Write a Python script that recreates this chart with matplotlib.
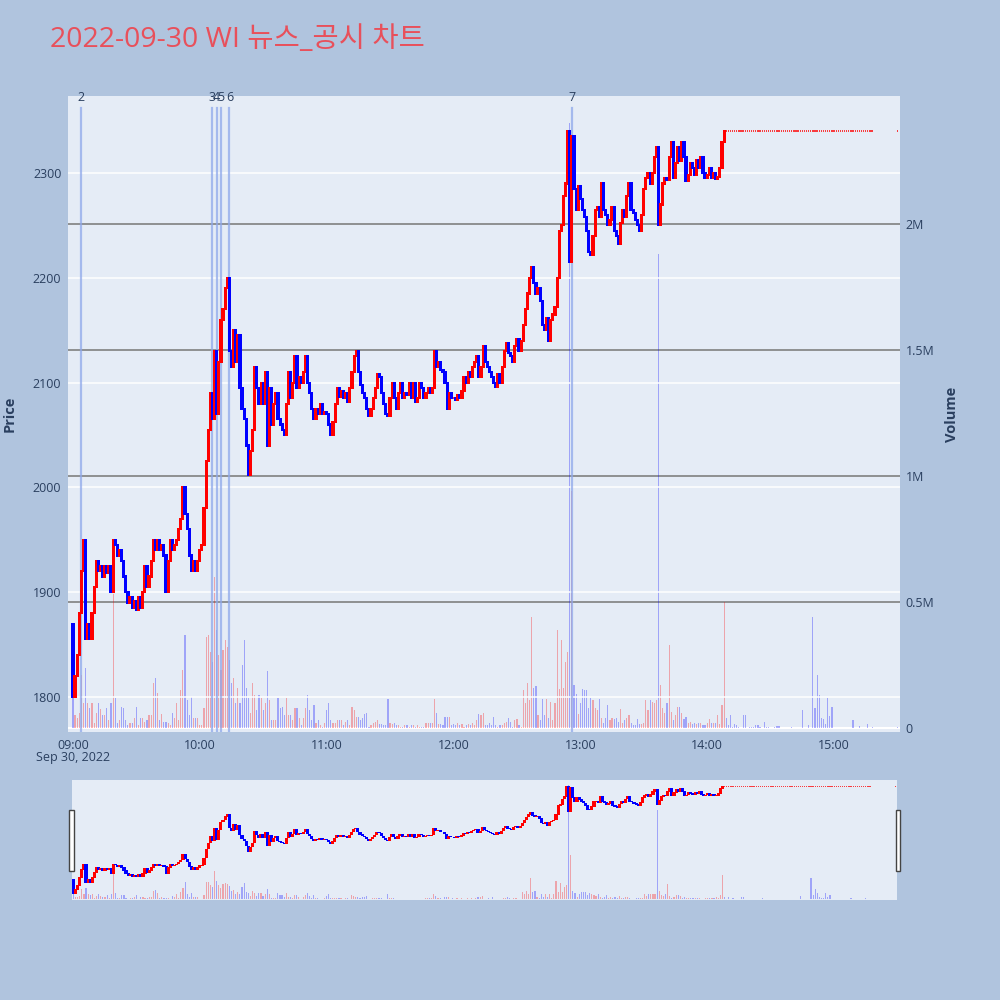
import matplotlib
matplotlib.use("Agg")
import matplotlib.pyplot as plt
import matplotlib.dates as mdates
import matplotlib.patches as patches
import numpy as np
import pandas as pd

plt.rcParams['font.family'] = ['Open Sans', 'Noto Sans CJK KR', 'DejaVu Sans']

title = "2022-09-30 WI 뉴스_공시 차트"

# 1-minute closes, 09:00 ~ 14:08
close_trade = [
    1800, 1820, 1840, 1880, 1920, 1950, 1855, 1870, 1855, 1880,
    1905, 1930, 1920, 1925, 1915, 1925, 1918, 1925, 1900, 1950,
    1945, 1935, 1940, 1930, 1915, 1900, 1890, 1895, 1885, 1892,
    1883, 1895, 1885, 1900, 1925, 1905, 1915, 1930, 1950, 1940,
    1950, 1940, 1945, 1935, 1900, 1930, 1950, 1940, 1945, 1950,
    1960, 1970, 2000, 1975, 1960, 1935, 1920, 1930, 1920, 1930,
    1940, 1945, 1980, 2025, 2055, 2090, 2065, 2130, 2070, 2120,
    2160, 2170, 2190, 2200, 2130, 2115, 2150, 2120, 2145, 2095,
    2075, 2065, 2040, 2012, 2035, 2055, 2115, 2095, 2080, 2100,
    2080, 2110, 2040, 2095, 2060, 2080, 2090, 2065, 2060, 2055,
    2050, 2080, 2110, 2085, 2100, 2125, 2095, 2105, 2100, 2110,
    2125, 2100, 2090, 2075, 2065, 2075, 2070, 2080, 2070, 2072,
    2070, 2060, 2050, 2062, 2080, 2095, 2086, 2092, 2085, 2090,
    2082, 2095, 2110, 2125, 2130, 2110, 2098, 2090, 2085, 2075,
    2068, 2075, 2085, 2095, 2108, 2105, 2090, 2080, 2070, 2068,
    2085, 2100, 2085, 2075, 2090, 2100, 2085, 2090, 2088, 2100,
    2085, 2100, 2082, 2085, 2100, 2095, 2085, 2090, 2095, 2090,
    2095, 2130, 2115, 2120, 2112, 2110, 2100, 2075, 2090, 2085,
    2085, 2083, 2088, 2085, 2092, 2105, 2100, 2110, 2105, 2115,
    2120, 2125, 2105, 2115, 2135, 2120, 2115, 2110, 2105, 2100,
    2096, 2108, 2100, 2115, 2130, 2138, 2128, 2125, 2120, 2135,
    2142, 2130, 2140, 2155, 2170, 2185, 2200, 2210, 2195, 2185,
    2190, 2178, 2155, 2150, 2162, 2140, 2160, 2165, 2172, 2200,
    2245, 2250, 2278, 2290, 2340, 2215, 2335, 2285, 2265, 2288,
    2275, 2265, 2258, 2245, 2225, 2222, 2240, 2265, 2268, 2258,
    2290, 2265, 2260, 2250, 2255, 2268, 2245, 2240, 2232, 2252,
    2265, 2258, 2278, 2290, 2265, 2262, 2255, 2250, 2245, 2260,
    2285, 2295, 2300, 2290, 2300, 2315, 2325, 2250, 2270, 2290,
    2295, 2293, 2315, 2330, 2295, 2310, 2325, 2312, 2330, 2315,
    2292, 2298, 2310, 2305, 2298, 2312, 2305, 2315, 2300, 2295,
    2298, 2305, 2295, 2300, 2294, 2296, 2305, 2330, 2340,
]
first_open = 1870
flat_price = 2340      # 14:09 ~ 15:18 and the 15:30 close
n_flat = 70

# volume in thousand shares, same minutes
vol_trade = [
    120, 50, 40, 60, 210, 100, 240, 100, 80, 100,
    20, 60, 100, 75, 50, 50, 80, 30, 100, 530,
    120, 20, 30, 85, 80, 30, 10, 20, 20, 40,
    85, 10, 40, 40, 25, 30, 50, 50, 180, 200,
    140, 30, 55, 25, 25, 20, 10, 60, 40, 100,
    30, 150, 230, 370, 110, 50, 125, 40, 40, 40,
    10, 10, 80, 360, 370, 300, 260, 600, 390, 290,
    230, 310, 350, 320, 270, 180, 200, 100, 160, 100,
    250, 350, 160, 120, 60, 180, 130, 70, 130, 120,
    70, 100, 225, 110, 30, 30, 30, 120, 80, 85,
    50, 120, 50, 50, 30, 80, 80, 40, 10, 40,
    80, 130, 70, 30, 90, 20, 30, 10, 5, 20,
    70, 100, 30, 20, 20, 30, 30, 30, 10, 25,
    30, 10, 85, 70, 45, 45, 30, 40, 55, 60,
    5, 10, 20, 25, 30, 15, 15, 10, 10, 115,
    20, 15, 20, 10, 10, 5, 5, 10, 10, 5,
    10, 10, 5, 10, 5, 5, 5, 20, 20, 20,
    20, 115, 60, 15, 15, 10, 45, 45, 45, 10,
    15, 10, 20, 10, 15, 5, 10, 15, 10, 20,
    10, 30, 55, 50, 60, 10, 10, 20, 10, 45,
    10, 5, 10, 10, 20, 25, 40, 25, 5, 30,
    35, 10, 5, 150, 100, 180, 110, 440, 160, 165,
    50, 30, 115, 50, 115, 40, 105, 30, 100, 390,
    155, 350, 160, 260, 300, 2400, 940, 170, 135, 55,
    100, 155, 150, 150, 80, 120, 110, 80, 70, 115,
    40, 20, 40, 90, 30, 40, 35, 40, 25, 75,
    20, 30, 40, 50, 20, 10, 10, 35, 15, 15,
    20, 110, 70, 110, 105, 100, 110, 1880, 170, 80,
    60, 100, 330, 65, 30, 50, 85, 85, 60, 35,
    45, 20, 25, 15, 20, 15, 20, 20, 10, 10,
    20, 35, 20, 20, 20, 50, 15, 90, 500,
]
vol_flat = [
    40, 10, 50, 5, 15, 10, 5, 0, 50, 50,
    0, 5, 3, 5, 10, 10, 5, 0, 25, 3,
    5, 0, 0, 5, 8, 8, 0, 0, 0, 0,
    0, 5, 0, 0, 0, 0, 70, 0, 0, 10,
    0, 440, 80, 210, 130, 40, 35, 15, 120, 47,
    85, 0, 0, 0, 0, 0, 0, 0, 0, 0,
    30, 0, 0, 8, 0, 0, 0, 15, 0, 5,
]
vol_close = 5

# news / disclosure markers
event_labels = ["2", "3", "4", "5", "6", "7"]
event_times = ["09:04", "10:06", "10:08", "10:10", "10:14", "12:56"]

day = "2022-09-30"
times = pd.date_range(day + " 09:00", periods=len(close_trade) + n_flat, freq="min")
times = times.append(pd.DatetimeIndex([pd.Timestamp(day + " 15:30")]))
closes = np.array(close_trade + [flat_price] * n_flat + [flat_price], dtype=float)
opens = np.concatenate([[first_open], closes[:-1]])
vols = np.array(vol_trade + vol_flat + [vol_close], dtype=float)
x = mdates.date2num(times)
minute = 1.0 / 1440

up = closes >= opens
vol_up = closes > opens
doji = closes == opens

RED, BLUE = "#FF0000", "#0000FF"
BG = "#E5ECF6"
TXT = "#2a3f5f"
t0 = mdates.date2num(pd.Timestamp(day + " 09:00"))


def draw(axv, axp):
    vc = np.where(vol_up, "#FF0000", "#0000FF")
    axv.bar(x, vols, width=0.55 * minute, color=vc, alpha=0.3, linewidth=0, zorder=2)
    body_bottom = np.minimum(opens, closes) - 1
    body_h = np.abs(closes - opens) + 2
    cc = np.where(up, RED, BLUE)
    nd = ~doji
    axp.bar(x[nd], body_h[nd], bottom=body_bottom[nd], width=1.5 * minute,
            color=cc[nd], linewidth=0, zorder=3)
    axp.bar(x[doji], 2.2, bottom=closes[doji] - 1.1, width=0.6 * minute,
            color=RED, alpha=0.75, linewidth=0, zorder=3)


fig = plt.figure(figsize=(10, 10), dpi=100)
fig.patch.set_facecolor("#B0C4DE")

# main chart: volume underneath, price on the twin
axv = fig.add_axes([0.0683, 0.2677, 0.8317, 0.6366])
axp = axv.twinx()
axv.set_facecolor(BG)
axp.patch.set_visible(False)

draw(axv, axp)

axv.set_xlim(t0 - 2.2 * minute, t0 + 391.2 * minute)
axv.set_ylim(-17, 2509)
axp.set_ylim(1766.3, 2373.8)

axv.yaxis.tick_right()
axp.yaxis.tick_left()
axv.set_yticks([0, 500, 1000, 1500, 2000])
axv.set_yticklabels(["0", "0.5M", "1M", "1.5M", "2M"])
axp.set_yticks(range(1800, 2301, 100))
axv.grid(axis="y", color="#808080", linewidth=1.2)
axv.set_axisbelow(True)
axp.grid(axis="y", color="white", linewidth=1.1, zorder=0)
axp.set_axisbelow(True)
axv.axhline(0, color="white", linewidth=1.5, zorder=1)

hours = [mdates.date2num(pd.Timestamp(day + " %02d:00" % h)) for h in range(9, 16)]
axv.set_xticks(hours)
axv.xaxis.set_major_formatter(mdates.DateFormatter("%H:%M"))
for a in (axv, axp):
    a.tick_params(length=0, labelsize=9, labelcolor=TXT, pad=5)
    for s in a.spines.values():
        s.set_visible(False)
axv.tick_params(axis="y", pad=4)
axv.text(hours[0], -0.040, "Sep 30, 2022", transform=axv.get_xaxis_transform(),
         ha="center", va="center", fontsize=9, color=TXT)

for lab, tm in zip(event_labels, event_times):
    ex = mdates.date2num(pd.Timestamp(day + " " + tm))
    axp.plot([ex, ex], [0, 0.98], transform=axp.get_xaxis_transform(),
             color="#8fa8ea", alpha=0.75, linewidth=1.6, zorder=1.5)
    axp.text(ex, 0.997, lab, transform=axp.get_xaxis_transform(),
             ha="center", va="center", fontsize=9, color=TXT)

fig.text(0.010, 0.586, "Price", rotation=90, ha="center", va="center",
         fontsize=10.5, fontweight="bold", color=TXT)
fig.text(0.952, 0.586, "Volume", rotation=90, ha="center", va="center",
         fontsize=10.5, fontweight="bold", color=TXT)
fig.text(0.05, 0.960, title, ha="left", va="center", fontsize=20.5, color="#E8505B")

# range slider
sv = fig.add_axes([0.0717, 0.100, 0.8253, 0.120])
sp = sv.twinx()
sv.set_facecolor(BG)
sp.patch.set_visible(False)
draw(sv, sp)
sv.set_xlim(t0 - 0.8 * minute, t0 + 390.8 * minute)
sv.set_ylim(-17, 2509)
sp.set_ylim(1766.3, 2373.8)
for a in (sv, sp):
    a.set_xticks([])
    a.set_yticks([])
    for s in a.spines.values():
        s.set_visible(False)

for hx in (0.0693, 0.8955):
    fig.add_artist(patches.Rectangle((hx, 0.1295), 0.0042, 0.0605, transform=fig.transFigure,
                                     facecolor="white", edgecolor="#444444", linewidth=1))

fig.savefig("out.png", dpi=100, facecolor=fig.get_facecolor())
